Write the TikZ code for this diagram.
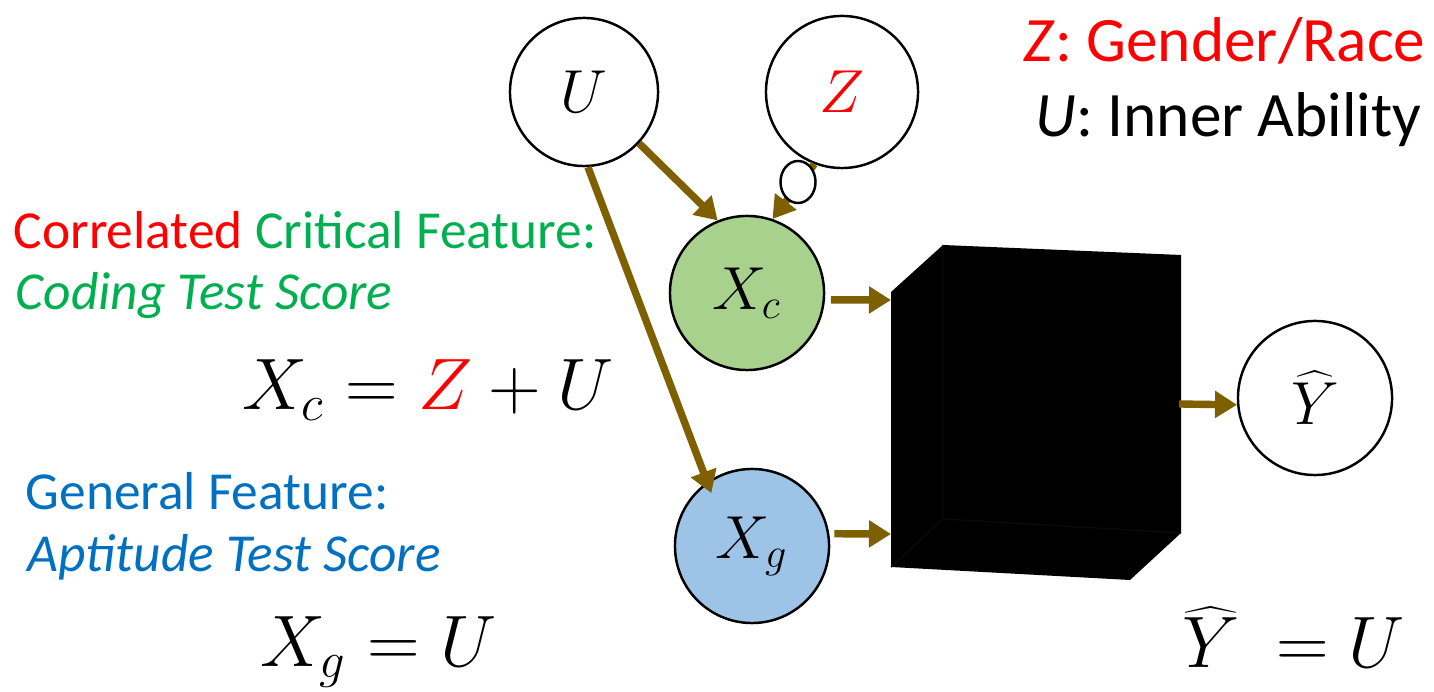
\documentclass[tikz,border=0pt]{standalone}
\usepackage{fontspec}
\setmainfont{Carlito}
\usepackage{tikz}
\usetikzlibrary{arrows.meta,shapes.geometric}
\definecolor{arrowbrown}{HTML}{7F6000}
\definecolor{critgreen}{HTML}{00B050}
\definecolor{genblue}{HTML}{0070C0}
\definecolor{critfill}{HTML}{A9D18E}
\definecolor{genfill}{HTML}{9DC3E6}
\definecolor{zred}{HTML}{FF0000}
\tikzset{fig/.style={line join=round,x=0.01cm,y=-0.01cm},
 var/.style={circle,draw,line width=0.7pt,minimum size=1.52cm,inner sep=0pt,font=\fontsize{16.5}{20}\selectfont},
 link/.style={arrowbrown,line width=2.1pt,-{Triangle[length=0.22cm,width=0.26cm]}},
 txt/.style={inner sep=0pt,anchor=base west,font=\fontsize{15.2}{18}\selectfont},
 keytxt/.style={txt,font=\fontsize{18}{22}\selectfont},
 eqn/.style={inner sep=0pt,anchor=base west,font=\fontsize{20}{24}\selectfont}}

\begin{document}
\begin{tikzpicture}[fig]
 \useasboundingbox (0,0) rectangle (1434,692);
 \node[var,minimum size=1.48cm] (U) at (584,92) {$U$};
 \node[var] (Z) at (842,92) {$\color{zred}Z$};
 \node[var,fill=critfill,minimum size=1.54cm] (Xc) at (747,293) {$X_c$};
 \node[var,fill=genfill,minimum size=1.54cm] (Xg) at (752,546) {$X_g$};
 \node[var,minimum size=1.54cm] (Yhat) at (1315,398) {$\widehat{Y}$};
 \fill (891,292)--(943,245)--(1181,255)--(1181,533)--(1130,580)--(891,567)--cycle;
 \draw[black!96,line width=0.4pt] (943,245)--(943,519)--(891,567) (943,519)--(1181,533);
 \coordinate (boxc) at (891,300);\coordinate (boxg) at (891,534);\coordinate (boxout) at (1179,404);
 \draw[link] (U.-43)--(Xc.112);
 \draw[link,shorten >=-0.12cm] (U.-87)--(Xg.125);
 \draw[link] (Z.-111)--(Xc.71);
 \node[ellipse,draw,fill=white,line width=0.7pt,minimum width=0.35cm,minimum height=0.42cm,inner sep=0pt] (knob) at (798,182) {};
 \draw[link,shorten <=0.06cm] (Xc.-5)--(boxc);
 \draw[link,shorten <=0.05cm] (Xg.9)--(boxg);
 \draw[link] (boxout)--(Yhat.185);
 \node[keytxt,zred] (zkey) at (1023,62) {\textit{Z}: Gender/Race};
 \node[keytxt] (ukey) at (1035,137) {\textit{U}: Inner Ability};
 \node[txt] (critlbl) at (13,249) {\textcolor{zred}{Correlated} \textcolor{critgreen}{Critical Feature:}};
 \node[txt,critgreen] (critex) at (15,310) {\itshape Coding Test Score};
 \node[eqn] (critfx) at (242,410) {$X_c = {\color{zred}Z} + U$};
 \node[txt,genblue] (genlbl) at (25,510) {General Feature:};
 \node[txt,genblue] (genex) at (27,572) {\itshape Aptitude Test Score};
 \node[eqn] (genfx) at (260,667) {$X_g = U$};
 \node[eqn] (yfx) at (1182,668) {$\widehat{Y}\ = U$};
\end{tikzpicture}
\end{document}
